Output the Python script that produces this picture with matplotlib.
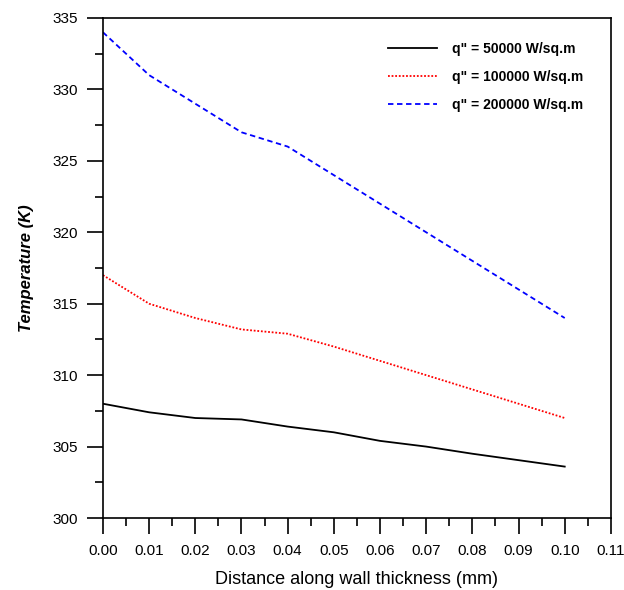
import matplotlib
matplotlib.use("Agg")
import matplotlib.pyplot as plt
from matplotlib.ticker import MultipleLocator, FormatStrFormatter

plt.rcParams['font.family'] = ['Liberation Sans', 'DejaVu Sans']

distance = [0.00, 0.01, 0.02, 0.03, 0.04, 0.05, 0.06, 0.07, 0.08, 0.09, 0.10]
temp_50k = [308.0, 307.4, 307.0, 306.9, 306.4, 306.0, 305.4, 305.0, 304.5, 304.05, 303.6]
temp_100k = [317.0, 315.0, 314.0, 313.2, 312.9, 312.0, 311.0, 310.0, 309.0, 308.0, 307.0]
temp_200k = [334.0, 331.0, 329.0, 327.0, 326.0, 324.0, 322.0, 320.0, 318.0, 316.0, 314.0]
labels = ['q" = 50000 W/sq.m', 'q" = 100000 W/sq.m', 'q" = 200000 W/sq.m']

fig = plt.figure(figsize=(6.24, 5.90), dpi=100)
ax = fig.add_axes([0.165, 0.122, 0.814, 0.8475])

ax.plot(distance, temp_50k, color='black', linestyle='-', linewidth=1.3, label=labels[0])
ax.plot(distance, temp_100k, color='red', linestyle=(0, (1, 1)), linewidth=1.3, label=labels[1])
ax.plot(distance, temp_200k, color='blue', linestyle=(0, (3, 2)), linewidth=1.3, label=labels[2])

ax.set_xlim(0, 0.11)
ax.set_ylim(300, 335)
ax.xaxis.set_major_locator(MultipleLocator(0.01))
ax.xaxis.set_minor_locator(MultipleLocator(0.005))
ax.xaxis.set_major_formatter(FormatStrFormatter('%.2f'))
ax.yaxis.set_major_locator(MultipleLocator(5))
ax.yaxis.set_minor_locator(MultipleLocator(2.5))

ax.tick_params(which='both', direction='out', top=False, right=False, width=1.2, labelsize=11, colors='black')
ax.tick_params(which='major', length=11.5)
ax.tick_params(which='minor', length=5.5)
ax.tick_params(axis='y', which='major', pad=6.5)
ax.tick_params(axis='x', which='major', pad=7.5)
for s in ax.spines.values():
    s.set_linewidth(1.2)

ax.set_xlabel('Distance along wall thickness (mm)', fontsize=13, labelpad=9)
ax.set_ylabel('Temperature (K)', fontsize=12, fontweight='bold', fontstyle='italic', labelpad=13)

leg = ax.legend(loc='upper left', bbox_to_anchor=(0.561, 0.952), frameon=False,
                prop={'weight': 'bold', 'size': 10}, handlelength=3.5, handletextpad=1.15,
                labelspacing=1.0, borderpad=0, borderaxespad=0)

fig.savefig('out.png', dpi=100)
